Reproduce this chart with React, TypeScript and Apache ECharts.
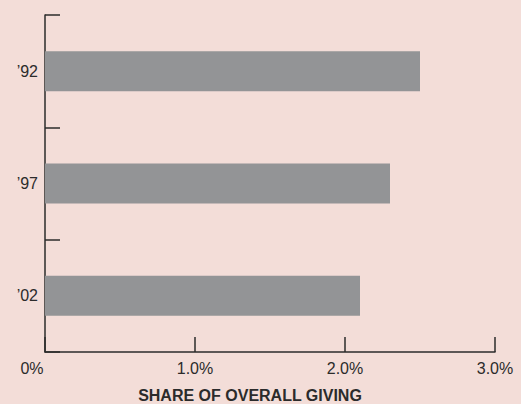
import React, { useEffect, useRef } from "react";
import * as echarts from "echarts";

const categories = ["’92", "’97", "’02"];
const shares = [2.5, 2.3, 2.1];
const xTicks = [0, 1, 2, 3];

export default function App() {
  const ref = useRef<HTMLDivElement>(null);
  useEffect(() => {
    document.body.style.margin = "0";
    const chart = echarts.init(ref.current!, null, { renderer: "svg" });
    const axisColor = "#2b2b2b";
    chart.setOption({
      animation: false,
      backgroundColor: "#f3ddd8",
      textStyle: { fontFamily: "Liberation Sans, Arial, sans-serif" },
      grid: {
        left: 45,
        width: 450,
        top: 15,
        height: 337,
        containLabel: false,
        outerBoundsMode: "none",
      },
      xAxis: {
        type: "value",
        min: xTicks[0],
        max: xTicks[xTicks.length - 1],
        interval: 1,
        splitLine: { show: false },
        axisLine: { show: true, lineStyle: { color: axisColor, width: 1.5 } },
        axisTick: { show: true, inside: true, length: 15, lineStyle: { color: axisColor, width: 1.5 } },
        axisLabel: {
          color: "#2b2b2b",
          fontSize: 16,
          margin: 8,
          formatter: (v: number) => (v === 0 ? "{z|0%}" : v.toFixed(1) + "%"),
          rich: { z: { fontSize: 16, color: "#2b2b2b", padding: [0, 26, 0, 0] } },
        },
        name: "SHARE OF OVERALL GIVING",
        nameLocation: "middle",
        nameGap: 35,
        nameTextStyle: {
          fontSize: 16,
          fontWeight: "bold",
          color: "#2b2b2b",
          padding: [0, 40, 0, 0],
        },
      },
      yAxis: {
        type: "category",
        data: categories,
        inverse: true,
        axisLine: { show: true, lineStyle: { color: axisColor, width: 1.5 } },
        axisTick: {
          show: true,
          inside: true,
          length: 15,
          lineStyle: { color: axisColor, width: 1.5 },
        },
        axisLabel: { color: "#2b2b2b", fontSize: 16, margin: 7 },
        splitLine: { show: false },
      },
      series: [
        {
          type: "bar",
          data: shares,
          barWidth: 40,
          itemStyle: { color: "#939496" },
        },
      ],
    });
    return () => chart.dispose();
  }, []);
  return (
    <div
      ref={ref}
      style={{ position: "absolute", left: 0, top: 0, width: 521, height: 404 }}
    />
  );
}
